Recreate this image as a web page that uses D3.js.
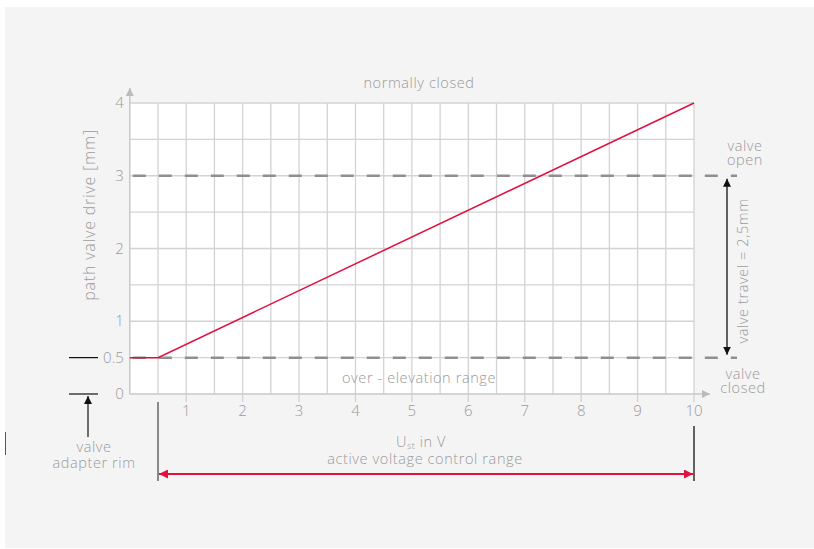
<!DOCTYPE html>
<html><head><meta charset="utf-8">
<script src="https://cdn.jsdelivr.net/npm/d3@7"></script>
<style>
body{margin:0;background:#fff;}
text{font-family:'Open Sans',Lato,sans-serif;font-weight:300;fill:#9a9a9a;}
.ann{font-size:14.5px;letter-spacing:0.6px;}
</style></head>
<body>
<svg id="c" width="814" height="549"></svg>
<script>
// ---- data ----
const xTicks = [1,2,3,4,5,6,7,8,9,10];
const yTicks = [0,0.5,1,2,3,4];
const xGrid = [0.5,1,1.5,2,2.5,3,3.5,4,4.5,5,5.5,6,6.5,7,7.5,8,8.5,9,9.5,10];
const yGrid = [0.5,1,1.5,2,2.5,3,3.5,4];
const curveX = [0, 0.5, 10];
const curveY = [0.5, 0.5, 4];
const valveOpen = 3;
const valveClosed = 0.5;
const activeStart = 0.5, activeEnd = 10;

const svg = d3.select("#c");
svg.append("rect").attr("x",5).attr("y",7).attr("width",809).attr("height",541).attr("fill","#f4f4f4");
const x = d3.scaleLinear().domain([0,10]).range([129.8,694]);
const y = d3.scaleLinear().domain([0,4]).range([394,103]);

const defs = svg.append("defs");
function marker(id,color,w,h){
  defs.append("marker").attr("id",id).attr("viewBox","0 0 10 10").attr("refX",10).attr("refY",5)
   .attr("markerWidth",w).attr("markerHeight",h).attr("markerUnits","userSpaceOnUse").attr("orient","auto-start-reverse")
   .append("path").attr("d","M0,0L10,5L0,10z").attr("fill",color);
}
marker("ab","#111",8,13);
marker("ar","#e0103f",16,9);
marker("ag","#bbb",13,8);

// plot background
svg.append("rect").attr("x",x(0)).attr("y",y(4)).attr("width",x(10)-x(0)).attr("height",y(0)-y(4)).attr("fill","#fff");
// grid
svg.append("g").selectAll("line").data(xGrid).join("line")
  .attr("x1",d=>x(d)).attr("x2",d=>x(d)).attr("y1",y(0)).attr("y2",y(4)).attr("stroke","#d3d3d3").attr("stroke-width",1.3);
svg.append("g").selectAll("line").data(yGrid).join("line")
  .attr("x1",x(0)).attr("x2",x(10)).attr("y1",d=>y(d)).attr("y2",d=>y(d)).attr("stroke","#d3d3d3").attr("stroke-width",1.3);
// axes
svg.append("line").attr("x1",x(0)).attr("x2",x(0)).attr("y1",y(0)).attr("y2",88).attr("stroke","#c8c8c8").attr("stroke-width",1.5).attr("marker-end","url(#ag)");
svg.append("line").attr("x1",x(0)).attr("x2",710).attr("y1",y(0)).attr("y2",y(0)).attr("stroke","#c8c8c8").attr("stroke-width",1.5).attr("marker-end","url(#ag)");
// x tick marks & labels
const xa = svg.append("g");
xa.selectAll("line").data(xTicks).join("line").attr("x1",d=>x(d)).attr("x2",d=>x(d)).attr("y1",y(0)).attr("y2",y(0)+8).attr("stroke","#d3d3d3").attr("stroke-width",1.3);
xa.selectAll("text").data(xTicks).join("text").attr("x",d=>x(d)).attr("y",y(0)+22).attr("text-anchor","middle").attr("font-size",15).text(d=>d);
// y labels
svg.append("g").selectAll("text").data(yTicks).join("text").attr("x",x(0)-6).attr("y",d=>y(d)+5).attr("text-anchor","end").attr("font-size",15).text(d=>d);
svg.append("text").attr("transform",`translate(95,215) rotate(-90)`).attr("text-anchor","middle").attr("font-size",16).attr("letter-spacing",0.8).text("path valve drive [mm]");

// dashed lines
[valveOpen,valveClosed].forEach(v=>{
  svg.append("line").attr("x1",x(0)).attr("x2",737).attr("y1",y(v)).attr("y2",y(v))
   .attr("stroke","#8f8f8f").attr("stroke-width",2.5).attr("stroke-dasharray","13,13").attr("stroke-dashoffset",-3);
});
// curve
svg.append("path").datum(curveX.map((d,i)=>[d,curveY[i]]))
  .attr("d",d3.line().x(d=>x(d[0])).y(d=>y(d[1]))).attr("fill","none").attr("stroke","#e0103f").attr("stroke-width",1.5);

// multi-line label helper
function multi(cx, cy, lines, gap){
  const t = svg.append("text").attr("class","ann").attr("text-anchor","middle");
  lines.forEach((l,i)=>t.append("tspan").attr("x",cx).attr("y",cy+i*gap).text(l));
  return t;
}

// texts
svg.append("text").attr("class","ann").attr("x",419).attr("y",88).attr("text-anchor","middle").text("normally closed");
svg.append("text").attr("class","ann").attr("x",419).attr("y",383).attr("text-anchor","middle").text("over - elevation range");
const ut = svg.append("text").attr("class","ann").attr("text-anchor","middle");
ut.append("tspan").attr("x",421).attr("y",447).text("U");
ut.append("tspan").attr("font-size",9).attr("dy",2).text("st");
ut.append("tspan").attr("dy",-2).text(" in V");
ut.append("tspan").attr("x",425).attr("y",464).text("active voltage control range");

// right annotations
multi(745,151,["valve","open"],14);
multi(743,379,["valve","closed"],14);
svg.append("line").attr("x1",727).attr("x2",727).attr("y1",y(valveOpen)+3).attr("y2",y(valveClosed)-3)
  .attr("stroke","#111").attr("stroke-width",1.3).attr("marker-start","url(#ab)").attr("marker-end","url(#ab)");
svg.append("text").attr("class","ann").attr("transform",`translate(748,271) rotate(-90)`).attr("text-anchor","middle").text("valve travel = 2,5mm");

// left annotations
svg.append("line").attr("x1",69).attr("x2",98).attr("y1",y(0.5)).attr("y2",y(0.5)).attr("stroke","#111").attr("stroke-width",1.2);
svg.append("line").attr("x1",69).attr("x2",98).attr("y1",y(0)).attr("y2",y(0)).attr("stroke","#111").attr("stroke-width",1.2);
svg.append("line").attr("x1",88).attr("x2",88).attr("y1",437).attr("y2",y(0)+2).attr("stroke","#111").attr("stroke-width",1.2).attr("marker-end","url(#ab)");
multi(94,452,["valve","adapter rim"],16);
svg.append("line").attr("x1",5.5).attr("x2",5.5).attr("y1",432).attr("y2",455).attr("stroke","#555").attr("stroke-width",1);

// active range
svg.append("line").attr("x1",x(activeStart)).attr("x2",x(activeStart)).attr("y1",402).attr("y2",481).attr("stroke","#666").attr("stroke-width",1.5);
svg.append("line").attr("x1",x(activeEnd)).attr("x2",x(activeEnd)).attr("y1",426).attr("y2",481).attr("stroke","#111").attr("stroke-width",1.3);
svg.append("line").attr("x1",x(activeStart)+1).attr("x2",x(activeEnd)-1).attr("y1",474).attr("y2",474)
  .attr("stroke","#e0103f").attr("stroke-width",2).attr("marker-start","url(#ar)").attr("marker-end","url(#ar)");
</script>
</body></html>
